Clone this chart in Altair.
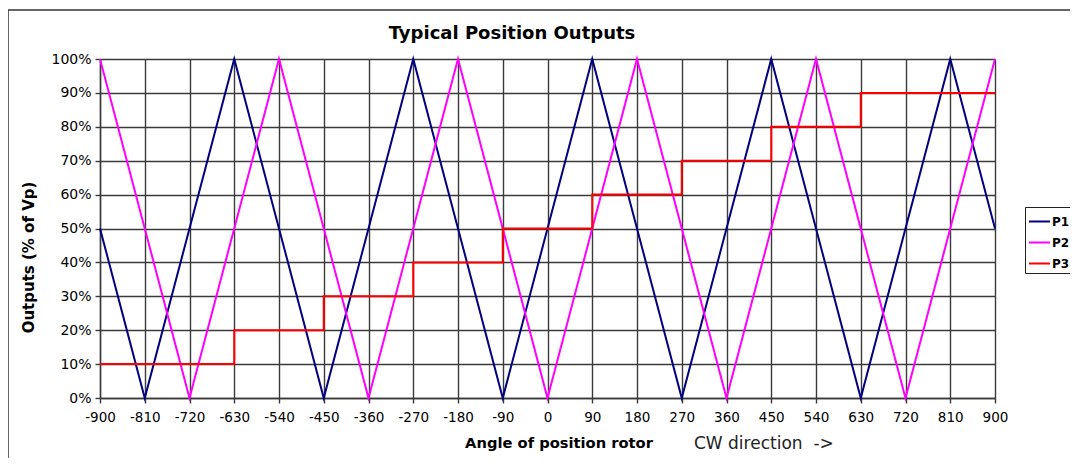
import altair as alt
import pandas as pd

p1_x = [-900, -810, -630, -450, -270, -90, 90, 270, 450, 630, 810, 900]
p1_y = [50, 0, 100, 0, 100, 0, 100, 0, 100, 0, 100, 50]
p2_x = [-900, -720, -540, -360, -180, 0, 180, 360, 540, 720, 900]
p2_y = [100, 0, 100, 0, 100, 0, 100, 0, 100, 0, 100]
p3_x = [-900, -630, -450, -270, -90, 90, 270, 450, 630, 900]
p3_y = [10, 20, 30, 40, 50, 60, 70, 80, 90, 90]
x_ticks = list(range(-900, 901, 90))
y_ticks = list(range(0, 101, 10))

rows = []
for s, xs, ys in [("P1", p1_x, p1_y), ("P2", p2_x, p2_y)]:
    for a, b in zip(xs, ys):
        rows.append({"angle": a, "out": b, "series": s})
df = pd.DataFrame(rows)
df3 = pd.DataFrame({"angle": p3_x, "out": p3_y, "series": "P3"})

FONT = "DejaVu Sans"
W, H = 895, 339
GRID = "#3a3a3a"

color = alt.Color(
    "series:N",
    scale=alt.Scale(domain=["P1", "P2", "P3"], range=["#000080", "#FF00FF", "#FF0000"]),
    legend=alt.Legend(
        title=None, orient="none", legendX=925, legendY=148,
        symbolType="stroke", symbolStrokeWidth=2, symbolSize=441,
        strokeColor="#222222", padding=3, rowPadding=3, labelOffset=1,
        labelFont=FONT, labelFontSize=12, labelFontWeight="bold", labelColor="#000000",
    ),
)

xenc = alt.X(
    "angle:Q",
    scale=alt.Scale(domain=[-900, 900], nice=False, zero=False),
    axis=alt.Axis(values=x_ticks, title=None, labelExpr="'' + datum.value",
                  labelFont=FONT, labelFontSize=13.5,
                  labelColor="#000000", labelPadding=7, tickSize=5, labelOverlap=False,
                  grid=True, gridColor=GRID, gridWidth=1.4,
                  domainColor=GRID, tickColor=GRID, domainWidth=1.4, tickWidth=1.4,
                  labelFlush=False),
)
yenc = alt.Y(
    "out:Q",
    scale=alt.Scale(domain=[0, 100], nice=False, zero=False),
    axis=alt.Axis(values=y_ticks, tickCount=11, title="Outputs (% of Vp)", titleFont=FONT,
                  titleFontSize=15, titleFontWeight="bold", titleColor="#000000",
                  titleX=-72, titleY=198, titleAlign="center", titleBaseline="middle",
                  titleAngle=270,
                  labelExpr="datum.value + '%'", labelOverlap=False,
                  labelFont=FONT, labelFontSize=14, labelColor="#000000",
                  labelPadding=4, tickSize=5, grid=True, gridColor=GRID,
                  gridWidth=1.4, domainColor=GRID, tickColor=GRID,
                  domainWidth=1.4, tickWidth=1.4),
)

lines = alt.Chart(df).mark_line(strokeWidth=2).encode(x=xenc, y=yenc, color=color, detail="series:N")
step = alt.Chart(df3).mark_line(strokeWidth=2, interpolate="step-after").encode(
    x=xenc, y=yenc, color=color)

title_txt = alt.Chart(pd.DataFrame({"t": ["Typical Position Outputs"]})).mark_text(
    font=FONT, fontSize=18, fontWeight="bold", color="#000000", align="center", baseline="middle"
).encode(text="t:N", x=alt.value(412), y=alt.value(-25))

xt = alt.Chart(pd.DataFrame({"t": ["Angle of position rotor"]})).mark_text(
    font=FONT, fontSize=14.7, fontWeight="bold", color="#000000", align="center", baseline="middle"
).encode(text="t:N", x=alt.value(459), y=alt.value(385))

cw = alt.Chart(pd.DataFrame({"t": ["CW direction\u00a0\u00a0->"]})).mark_text(
    font=FONT, fontSize=17, color="#222222", align="left", baseline="middle"
).encode(text="t:N", x=alt.value(594), y=alt.value(385))

frame_top = alt.Chart(pd.DataFrame({"a": [0]})).mark_rule(color="#333333", strokeWidth=1.5).encode(
    x=alt.value(-92), x2=alt.value(1000), y=alt.value(-49))
frame_left = alt.Chart(pd.DataFrame({"a": [0]})).mark_rule(color="#333333", strokeWidth=1.5).encode(
    x=alt.value(-92), y=alt.value(-49), y2=alt.value(420))

chart = alt.layer(frame_top, frame_left, lines, step, title_txt, xt, cw).properties(
    width=W, height=H,
    autosize=alt.AutoSizeParams(type="none"),
    padding={"left": 92, "top": 51, "right": 75, "bottom": 60},
).configure_view(stroke=GRID, strokeWidth=1.4).configure(background="#ffffff")

chart.save("out.html", embed_options={"renderer": "svg", "actions": False})
